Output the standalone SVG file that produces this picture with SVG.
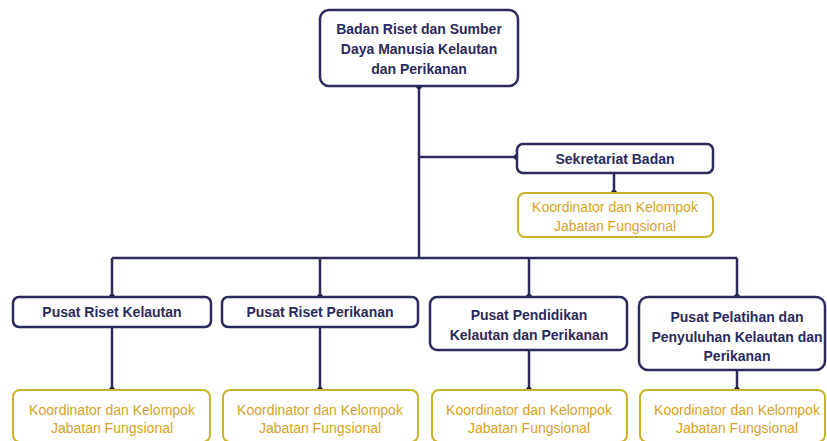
<svg xmlns="http://www.w3.org/2000/svg" width="827" height="441" viewBox="0 0 827 441">
<style>
.n rect{fill:#fff;stroke:#2b2a5c;stroke-width:2.5}
.n text{font-family:"Liberation Sans",Arial,sans-serif;font-weight:bold;font-size:14px;fill:#2b2a5c;text-anchor:middle}
.k rect{fill:#fff;stroke:#c9b22a;stroke-width:2}
.k text{font-family:"Liberation Sans",Arial,sans-serif;font-size:14px;fill:#d7a224;text-anchor:middle}
#connectors path{fill:none;stroke:#2b2a5c;stroke-width:2.5}
#connectors circle{fill:#1e1d45}
</style>
<rect width="827" height="441" fill="#fff"/>
<g id="connectors">
<path d="M419 86V258M419 157H517M614 173V193M112 258H737M112 258V297M320 258V297M529 258V297M737 258V297M112 327V390M320 327V390M529 350V390M737 370V390"/>
<circle cx="419" cy="86" r="3"/><circle cx="517" cy="157" r="3"/><circle cx="614" cy="193" r="3"/>
<circle cx="112" cy="297" r="3"/><circle cx="320" cy="297" r="3"/><circle cx="529" cy="297" r="3"/><circle cx="737" cy="297" r="3"/>
<circle cx="112" cy="390" r="3"/><circle cx="320" cy="390" r="3"/><circle cx="529" cy="390" r="3"/><circle cx="737" cy="390" r="3"/>
</g>
<g id="badan" class="n"><rect x="320" y="10" width="198" height="76" rx="9"/>
<text x="419" y="34">Badan Riset dan Sumber</text><text x="419" y="54">Daya Manusia Kelautan</text><text x="419" y="74">dan Perikanan</text></g>
<g id="sekretariat" class="n"><rect x="517" y="144" width="196" height="29" rx="6"/>
<text x="615" y="164">Sekretariat Badan</text></g>
<g id="kjf-sekretariat" class="k"><rect x="518" y="193" width="195" height="44" rx="7"/>
<text x="615" y="212">Koordinator dan Kelompok</text><text x="615" y="231">Jabatan Fungsional</text></g>
<g id="riset-kelautan" class="n"><rect x="13" y="297" width="198" height="30" rx="6"/>
<text x="112" y="317">Pusat Riset Kelautan</text></g>
<g id="riset-perikanan" class="n"><rect x="222" y="297" width="196" height="30" rx="6"/>
<text x="320" y="317">Pusat Riset Perikanan</text></g>
<g id="pendidikan" class="n"><rect x="430" y="297" width="197" height="53" rx="7"/>
<text x="529" y="320">Pusat Pendidikan</text><text x="529" y="340">Kelautan dan Perikanan</text></g>
<g id="pelatihan" class="n"><rect x="639" y="297" width="186" height="73" rx="9"/>
<text x="737" y="322">Pusat Pelatihan dan</text><text x="737" y="342">Penyuluhan Kelautan dan</text><text x="737" y="361">Perikanan</text></g>
<g id="kjf-1" class="k"><rect x="13" y="390" width="197" height="52" rx="7"/>
<text x="112" y="415">Koordinator dan Kelompok</text><text x="112" y="433">Jabatan Fungsional</text></g>
<g id="kjf-2" class="k"><rect x="223" y="390" width="195" height="52" rx="7"/>
<text x="320" y="415">Koordinator dan Kelompok</text><text x="320" y="433">Jabatan Fungsional</text></g>
<g id="kjf-3" class="k"><rect x="432" y="390" width="195" height="52" rx="7"/>
<text x="529" y="415">Koordinator dan Kelompok</text><text x="529" y="433">Jabatan Fungsional</text></g>
<g id="kjf-4" class="k"><rect x="640" y="390" width="185" height="52" rx="7"/>
<text x="737" y="415">Koordinator dan Kelompok</text><text x="737" y="433">Jabatan Fungsional</text></g>
</svg>
